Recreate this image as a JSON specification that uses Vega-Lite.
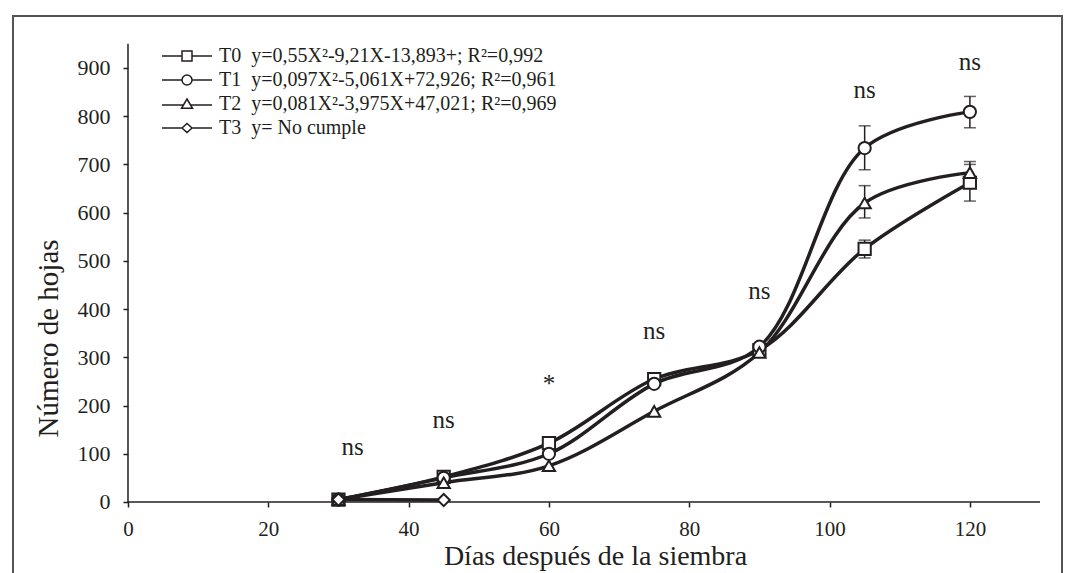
{
  "$schema": "https://vega.github.io/schema/vega-lite/v6.json",
  "width": 1049,
  "height": 560,
  "autosize": {"type": "none"},
  "padding": {"left": 13, "top": 16, "right": 10, "bottom": 0},
  "background": "white",
  "config": {
    "view": {"stroke": "#555555", "strokeWidth": 2},
    "font": "Liberation Serif",
    "axis": {"labelFont": "Liberation Serif", "titleFont": "Liberation Serif", "labelColor": "#231f20", "titleColor": "#231f20", "tickColor": "#231f20", "grid": false, "domain": false, "titleFontWeight": "normal", "tickWidth": 1.5}
  },
  "resolve": {"scale": {"shape": "independent"}},
  "datasets": {
    "medias": [
      {"dias": 30, "serie": "T0", "hojas": 5},
      {"dias": 45, "serie": "T0", "hojas": 52},
      {"dias": 60, "serie": "T0", "hojas": 122},
      {"dias": 75, "serie": "T0", "hojas": 255},
      {"dias": 90, "serie": "T0", "hojas": 315},
      {"dias": 105, "serie": "T0", "hojas": 525},
      {"dias": 120, "serie": "T0", "hojas": 662},
      {"dias": 30, "serie": "T1", "hojas": 5},
      {"dias": 45, "serie": "T1", "hojas": 50},
      {"dias": 60, "serie": "T1", "hojas": 100},
      {"dias": 75, "serie": "T1", "hojas": 245},
      {"dias": 90, "serie": "T1", "hojas": 322},
      {"dias": 105, "serie": "T1", "hojas": 734},
      {"dias": 120, "serie": "T1", "hojas": 809},
      {"dias": 30, "serie": "T2", "hojas": 5},
      {"dias": 45, "serie": "T2", "hojas": 40},
      {"dias": 60, "serie": "T2", "hojas": 75},
      {"dias": 75, "serie": "T2", "hojas": 188},
      {"dias": 90, "serie": "T2", "hojas": 310},
      {"dias": 105, "serie": "T2", "hojas": 620},
      {"dias": 120, "serie": "T2", "hojas": 683},
      {"dias": 30, "serie": "T3", "hojas": 5},
      {"dias": 45, "serie": "T3", "hojas": 4}
    ],
    "errores": [
      {"dias": 75, "serie": "T0", "lo": 245, "hi": 268},
      {"dias": 105, "serie": "T0", "lo": 506, "hi": 543},
      {"dias": 120, "serie": "T0", "lo": 624, "hi": 700},
      {"dias": 105, "serie": "T1", "lo": 689, "hi": 780},
      {"dias": 120, "serie": "T1", "lo": 776, "hi": 841},
      {"dias": 105, "serie": "T2", "lo": 589, "hi": 656},
      {"dias": 120, "serie": "T2", "lo": 661, "hi": 706}
    ],
    "signif": [
      {"dias": 32, "hojas": 114, "txt": "ns"},
      {"dias": 45, "hojas": 169, "txt": "ns"},
      {"dias": 60, "hojas": 245, "txt": "*"},
      {"dias": 75, "hojas": 355, "txt": "ns"},
      {"dias": 90, "hojas": 438, "txt": "ns"},
      {"dias": 105, "hojas": 855, "txt": "ns"},
      {"dias": 120, "hojas": 913, "txt": "ns"}
    ]
  },
  "layer": [
    {
      "data": {"values": [{}]},
      "mark": {"type": "rule", "color": "#231f20", "strokeWidth": 1.5},
      "encoding": {
        "x": {"datum": 0, "type": "quantitative"},
        "y": {"datum": 0, "type": "quantitative"},
        "y2": {"datum": 950}
      }
    },
    {
      "data": {"values": [{}]},
      "mark": {"type": "rule", "color": "#231f20", "strokeWidth": 1.5},
      "encoding": {
        "x": {"datum": 0, "type": "quantitative"},
        "x2": {"datum": 130},
        "y": {"datum": 0, "type": "quantitative"}
      }
    },
    {
      "data": {"name": "errores"},
      "mark": {"type": "rule", "color": "#231f20", "strokeWidth": 1.5},
      "encoding": {
        "x": {"field": "dias", "type": "quantitative"},
        "y": {"field": "lo", "type": "quantitative"},
        "y2": {"field": "hi"}
      }
    },
    {
      "data": {"name": "errores"},
      "mark": {"type": "tick", "color": "#231f20", "thickness": 1.5, "size": 12, "orient": "horizontal"},
      "encoding": {
        "x": {"field": "dias", "type": "quantitative"},
        "y": {"field": "lo", "type": "quantitative"}
      }
    },
    {
      "data": {"name": "errores"},
      "mark": {"type": "tick", "color": "#231f20", "thickness": 1.5, "size": 12, "orient": "horizontal"},
      "encoding": {
        "x": {"field": "dias", "type": "quantitative"},
        "y": {"field": "hi", "type": "quantitative"}
      }
    },
    {
      "data": {"name": "medias"},
      "mark": {"type": "line", "interpolate": "catmull-rom", "color": "#231f20", "strokeWidth": 3.5},
      "encoding": {
        "x": {"field": "dias", "type": "quantitative", "scale": {"domain": [-16.39, 133.13], "nice": false, "zero": false}, "axis": {"values": [0, 20, 40, 60, 80, 100, 120], "offset": -74, "title": "Días después de la siembra", "titleFontSize": 28, "titleX": 582, "labelFontSize": 21, "tickSize": 5, "labelPadding": 11, "titlePadding": 3}},
        "y": {"field": "hojas", "type": "quantitative", "scale": {"domain": [-153.5, 1007.8], "nice": false, "zero": false}, "axis": {"values": [0, 100, 200, 300, 400, 500, 600, 700, 800, 900], "offset": -115, "title": "Número de hojas", "titleFontSize": 29, "titleY": 322, "labelFontSize": 22, "tickSize": 5, "labelPadding": 13, "titlePadding": 14}},
        "detail": {"field": "serie"}
      }
    },
    {
      "data": {"name": "medias"},
      "mark": {"type": "point", "filled": true, "fill": "white", "stroke": "#231f20", "strokeWidth": 2, "opacity": 1},
      "encoding": {
        "x": {"field": "dias", "type": "quantitative"},
        "y": {"field": "hojas", "type": "quantitative"},
        "shape": {
          "field": "serie", "type": "nominal",
          "scale": {"domain": ["T0", "T1", "T2", "T3"], "range": ["square", "circle", "triangle-up", "diamond"]},
          "legend": null
        },
        "size": {"value": 150}
      }
    },
    {
      "data": {"name": "medias"},
      "transform": [{"filter": "datum.dias < 0"}],
      "mark": {"type": "point", "filled": true, "fill": "white", "stroke": "#231f20", "strokeWidth": 3, "opacity": 1},
      "encoding": {
        "x": {"field": "dias", "type": "quantitative"},
        "y": {"field": "hojas", "type": "quantitative"},
        "shape": {
          "field": "serie", "type": "nominal",
          "scale": {"domain": ["T0", "T1", "T2", "T3"], "range": ["M-5,0H-1M1,0H5M-1,-1H1V1H-1Z", "M-5,0H-1M1,0H5M-1,0A1,1 0 1,1 1,0A1,1 0 1,1 -1,0Z", "M-5,0.2H-0.71M0.71,0.2H5M0,-1L1.1,0.85H-1.1Z", "M-5,0H-1M1,0H5M-1,0L0,-0.9L1,0L0,0.9Z"]},
          "legend": {
            "title": null,
            "orient": "none",
            "legendX": 164,
            "legendY": 30,
            "symbolSize": 100,
            "labelFont": "Liberation Serif",
            "labelFontSize": 20,
            "labelColor": "#231f20",
            "labelOffset": 22,
            "rowPadding": 4,
            "labelLimit": 600,
            "labelExpr": "datum.value == 'T0' ? 'T0\u00a0 y=0,55X²-9,21X-13,893+; R²=0,992' : datum.value == 'T1' ? 'T1\u00a0 y=0,097X²-5,061X+72,926; R²=0,961' : datum.value == 'T2' ? 'T2\u00a0 y=0,081X²-3,975X+47,021; R²=0,969' : 'T3\u00a0 y= No cumple'",
            "encode": {
              "symbols": {
                "update": {
                  "fill": {"value": "white"},
                  "stroke": {"value": "#231f20"},
                  "strokeWidth": {"value": 3},
                  "opacity": {"value": 1},
                  "fillOpacity": {"value": 1},
                  "strokeOpacity": {"value": 1}
                }
              }
            }
          }
        },
        "size": {"value": 100}
      }
    },
    {
      "data": {"name": "signif"},
      "mark": {"type": "text", "font": "Liberation Serif", "fontSize": 25, "color": "#231f20"},
      "encoding": {
        "x": {"field": "dias", "type": "quantitative"},
        "y": {"field": "hojas", "type": "quantitative"},
        "text": {"field": "txt"}
      }
    }
  ]
}
